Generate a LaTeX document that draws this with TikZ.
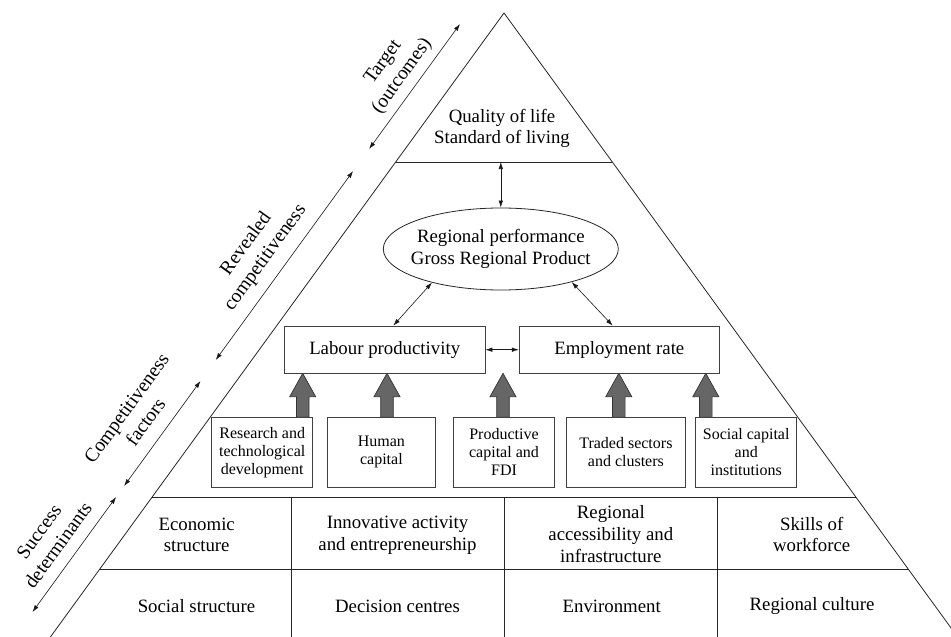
\documentclass[tikz,border=0pt]{standalone}
\usepackage{fontspec}
\setmainfont{Liberation Serif}
\usetikzlibrary{shapes.geometric,arrows.meta,calc}
\begin{document}
\begin{tikzpicture}[x=1pt,y=-1pt,
  edge/.style={line width=0.8pt, draw=black!85},
  thinarrow/.style={line width=0.6pt, draw=black!90, {Latex[length=7pt,width=4.5pt]}-{Latex[length=7pt,width=4.5pt]}},
  maintext/.style={font=\fontsize{18.8}{21.7}\selectfont, align=center, inner sep=0pt},
  sidetext/.style={font=\fontsize{19.5}{23.5}\selectfont, align=center, rotate=54, inner sep=0pt},
  smallbox/.style={draw=black!75, line width=0.8pt, fill=white, font=\fontsize{16}{18}\selectfont, align=center, minimum height=70pt, inner sep=0pt},
  midbox/.style={draw=black!75, line width=0.8pt, fill=white, font=\fontsize{18.8}{21.7}\selectfont, minimum height=47.3pt, inner sep=0pt},
  blockarrow/.style={fill=black!60, draw=black!80, line width=0.7pt}
]
\useasboundingbox (0,0) rectangle (951,637);
\clip (0,0) rectangle (951,637);
\fill[white] (0,0) rectangle (951,637);

% triangle
\coordinate (A) at (504,13);
\coordinate (L) at (50.4,637);
\coordinate (R) at (957.6,637);
\draw[edge] (L) -- (A) -- (R);
\draw[edge] ($(A)!0.2388!(L)$) -- ($(A)!0.2388!(R)$);
\draw[edge] ($(A)!0.7768!(L)$) -- ($(A)!0.7768!(R)$);
\draw[edge] ($(A)!0.8915!(L)$) -- ($(A)!0.8915!(R)$);
\foreach \c in {291,504,717} {
  \draw[edge] (\c,497.7) -- (\c,637);
}

% top
\node[maintext] (qol) at (502,128.3) {Quality of life\\Standard of living};
\node[draw=black!85, line width=0.8pt, ellipse, minimum width=235pt, minimum height=82pt, inner sep=0pt] (ell) at (500.8,249) {};
\node[maintext] (elltext) at (ell.center) {Regional performance\\Gross Regional Product};

% block arrows
\foreach \x in {302.7,387,503,618.8,705.8} {
  \draw[blockarrow] ({\x-6.3},417.3) -- ({\x-6.3},396.7) -- ({\x-13},396.7) -- (\x,373.3)
     -- ({\x+13},396.7) -- ({\x+6.3},396.7) -- ({\x+6.3},417.3) -- cycle;
}

% middle boxes
\node[midbox, minimum width=200.7pt] (lab) at (384.7,349.7) {Labour productivity};
\node[midbox, minimum width=200pt] (emp) at (619.3,349.7) {Employment rate};

% input boxes
\node[smallbox, minimum width=101pt] (b1) at (262.2,452.3) {Research and\\technological\\development};
\node[smallbox, minimum width=107.3pt] (b2) at (381.4,452.3) {Human\\capital};
\node[smallbox, minimum width=101.4pt] (b3) at (504,452.3) {Productive\\capital and\\FDI};
\node[smallbox, minimum width=118.3pt] (b4) at (625.9,452.3) {Traded sectors\\and clusters};
\node[smallbox, minimum width=101pt] (b5) at (746.2,452.5) {Social capital\\and\\institutions};

% thin arrows
\coordinate (qsep) at (500.8,162);
\draw[thinarrow] (qsep) -- (ell.north);
\draw[thinarrow] (ell.206) -- ($(lab.north)+(8.6,0)$);
\draw[thinarrow] (ell.335) -- ($(emp.north)+(-6.6,0)$);
\draw[thinarrow] (lab.east) -- (emp.west);

% bottom rows
\node[maintext] (r11) at (196.7,535) {Economic\\structure};
\node[maintext] (r12) at (397.5,535) {Innovative activity\\and entrepreneurship};
\node[maintext] (r13) at (610.8,534) {Regional\\accessibility and\\infrastructure};
\node[maintext] (r14) at (811.7,534.5) {Skills of\\workforce};
\node[maintext] (r21) at (196.5,606) {Social structure};
\node[maintext] (r22) at (397.5,606) {Decision centres};
\node[maintext] (r23) at (611.7,606) {Environment};
\node[maintext] (r24) at (812,606) {Regional culture};

% side arrows
\coordinate (t1) at (460,24);
\coordinate (t2) at (369.1,149);
\coordinate (v1) at (353.1,171);
\coordinate (v2) at (215.7,360);
\coordinate (c1) at (200.5,381);
\coordinate (c2) at (124.1,486);
\coordinate (s1) at (116.1,497);
\coordinate (s2) at (32.5,612);
\draw[thinarrow] (t2) -- (t1);
\draw[thinarrow] (v2) -- (v1);
\draw[thinarrow] (c2) -- (c1);
\draw[thinarrow] (s2) -- (s1);

\node[sidetext] (lt) at (393,69.4) {Target\\(outcomes)};
\node[sidetext] (lr) at (256,251) {Revealed\\competitiveness};
\node[sidetext] (lc) at (136,415) {Competitiveness\\factors};
\node[sidetext] (ls) at (48.5,538.5) {Success\\determinants};
\end{tikzpicture}
\end{document}
